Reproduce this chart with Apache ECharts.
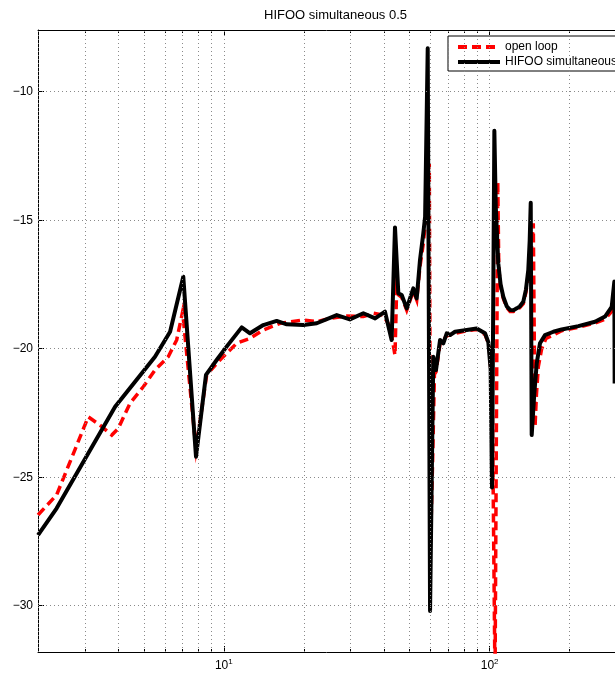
<!DOCTYPE html>
<html><head><meta charset="utf-8">
<script src="https://cdn.jsdelivr.net/npm/echarts@6/dist/echarts.min.js"></script>
<style>html,body{margin:0;padding:0;background:#fff}#c{width:615px;height:675px}</style>
</head><body><div id="c"></div>
<script>
const titleText = 'HIFOO simultaneous 0.5';
const seriesNames = ['open loop', 'HIFOO simultaneous'];

const freqOpen = [2.0, 2.35, 2.72, 3.09, 3.42, 3.79, 4.01, 4.44, 4.98, 5.51, 6.18, 6.65, 7.0, 7.86, 8.62, 9.67, 10.55, 11.18, 12.55, 14.08, 16.28, 19.9, 22.4, 25.1, 29.0, 33.5, 36.6, 39.8, 42.2, 44.06, 44.72, 45.35, 46.7, 48.77, 51.64, 53.19, 54.72, 56.31, 57.5, 59.3, 60.0, 61.0, 62.0, 62.85, 65.1, 68.97, 74.1, 82.0, 89.4, 96.1, 99.5, 101.2, 102.5, 104.8, 107.3, 108.3, 110.0, 112.6, 116.0, 119.4, 123.0, 126.5, 130.0, 133.9, 137.0, 139.8, 141.5, 144.0, 146.0, 148.2, 150.0, 152.5, 157.0, 163.0, 175.0, 186.7, 215.7, 249.2, 271.8, 288.0, 297.0, 298.0];
const magOpen = [-26.47, -25.69, -24.07, -22.65, -22.97, -23.36, -23.10, -22.12, -21.48, -20.83, -20.31, -19.66, -18.56, -23.9, -21.02, -20.44, -20.05, -19.79, -19.6, -19.27, -19.01, -18.88, -18.95, -18.82, -18.73, -18.75, -18.62, -18.69, -19.14, -20.25, -17.6, -17.9, -18.0, -18.5, -17.75, -18.1, -16.8, -15.9, -15.0, -12.8, -27.5, -24.5, -21.0, -20.9, -19.8, -19.5, -19.4, -19.3, -19.25, -19.45, -19.85, -20.9, -22.5, -33.0, -13.5, -16.9, -17.6, -18.05, -18.4, -18.55, -18.55, -18.5, -18.4, -18.25, -17.8, -17.1, -16.6, -16.0, -15.12, -23.05, -21.8, -20.7, -20.0, -19.6, -19.45, -19.3, -19.17, -19.0, -18.85, -18.55, -17.7, -21.5];

const freqHifoo = [2.0, 2.35, 3.90, 5.51, 6.28, 7.04, 7.86, 8.57, 9.40, 10.25, 11.68, 12.55, 14.08, 15.81, 17.25, 19.91, 22.37, 26.6, 29.8, 33.5, 37.1, 40.4, 42.8, 44.06, 45.35, 46.7, 48.77, 51.64, 53.19, 54.72, 56.31, 57.2, 58.5, 59.7, 61.4, 62.85, 65.1, 66.96, 68.97, 70.96, 74.1, 82.0, 89.4, 96.1, 98.9, 100.9, 102.1, 104.2, 105.5, 107.8, 110.0, 112.6, 116.0, 119.4, 123.0, 126.5, 130.0, 133.9, 137.0, 139.8, 141.5, 142.8, 144.0, 145.5, 147.3, 150.4, 154.7, 161.6, 173.7, 186.7, 215.7, 249.2, 271.8, 288.0, 294.6, 295.4];
const magHifoo = [-27.25, -26.21, -22.26, -20.31, -19.34, -17.20, -24.20, -21.02, -20.44, -19.92, -19.17, -19.40, -19.08, -18.92, -19.05, -19.08, -19.01, -18.69, -18.86, -18.62, -18.82, -18.56, -19.66, -15.28, -17.84, -17.91, -18.43, -17.65, -18.04, -16.55, -15.51, -14.86, -8.31, -30.2, -20.31, -20.83, -19.66, -19.79, -19.40, -19.47, -19.34, -19.27, -19.21, -19.40, -19.75, -20.8, -25.4, -11.52, -14.5, -16.68, -17.5, -17.98, -18.35, -18.49, -18.5, -18.43, -18.35, -18.17, -17.7, -16.94, -15.8, -14.32, -23.36, -22.6, -21.74, -20.57, -19.79, -19.47, -19.34, -19.25, -19.12, -18.95, -18.75, -18.37, -17.39, -21.35];

const xMajorTicks = [10, 100];
const xMinorTicks = [2, 3, 4, 5, 6, 7, 8, 9, 20, 30, 40, 50, 60, 70, 80, 90, 200];
const yTicks = [-30, -25, -20, -15, -10];

const FONT = "'Liberation Sans', Arial, Helvetica, sans-serif";
const zip = (a, b) => a.map((v, i) => [v, b[i]]);

const chart = echarts.init(document.getElementById('c'), null, {renderer: 'canvas'});

function xAxisDef(pos, ticks, len, showLine, showLabel) {
  return {
    type: 'log', logBase: 10, min: 2, max: 296.3, position: pos, gridIndex: 0,
    axisLine: {show: showLine, onZero: false, lineStyle: {color: '#000', width: 1}},
    axisTick: {show: true, inside: true, length: len, customValues: ticks, lineStyle: {color: '#000', width: 1}},
    axisLabel: {
      show: showLabel, customValues: ticks, margin: 6,
      formatter: v => '{b|10}{s|' + Math.round(Math.log10(v)) + '}',
      rich: {
        b: {fontSize: 12, fontFamily: FONT, color: '#000'},
        s: {fontSize: 8, fontFamily: FONT, color: '#000', padding: [0, 0, 8, 0]}
      }
    },
    splitLine: {show: false}, minorTick: {show: false}, minorSplitLine: {show: false}
  };
}

const gridMarks = xMinorTicks.concat(xMajorTicks).map(v => ({xAxis: v}))
  .concat(yTicks.map(v => ({yAxis: v})));

const option = {
  animation: false,
  backgroundColor: '#fff',
  title: {
    text: titleText, left: 264, top: 9, padding: 0,
    textStyle: {fontSize: 13, fontWeight: 'normal', color: '#000', fontFamily: FONT}
  },
  legend: {
    data: seriesNames, orient: 'vertical', left: 448, top: 36,
    itemWidth: 42, itemHeight: 4, itemGap: 3, padding: [5, 8, 3, 8],
    backgroundColor: '#fff', borderColor: '#000', borderWidth: 1, borderRadius: 0,
    lineStyle: {width: 4},
    itemStyle: {color: 'rgba(0,0,0,0)', borderWidth: 0, borderColor: 'rgba(0,0,0,0)', opacity: 0},
    textStyle: {fontSize: 12, color: '#000', fontFamily: FONT, lineHeight: 12}
  },
  grid: {left: 38, top: 30, right: 0, bottom: 23, containLabel: false},
  xAxis: [
    xAxisDef('bottom', xMajorTicks, 6, true, true),
    xAxisDef('bottom', xMinorTicks, 3, false, false),
    xAxisDef('top', xMajorTicks, 6, true, false),
    xAxisDef('top', xMinorTicks, 3, false, false)
  ],
  yAxis: {
    type: 'value', min: -31.8, max: -7.6,
    axisLine: {show: true, onZero: false, lineStyle: {color: '#000', width: 1}},
    axisTick: {show: true, inside: true, length: 6, customValues: yTicks, lineStyle: {color: '#000'}},
    axisLabel: {
      customValues: yTicks, margin: 5, fontSize: 12, color: '#000', fontFamily: FONT,
      formatter: v => String(v).replace('-', '\u2212')
    },
    splitLine: {show: false}
  },
  series: [
    {
      name: '__grid', type: 'line', data: [], z: 1, silent: true,
      markLine: {
        silent: true, symbol: ['none', 'none'], label: {show: false},
        lineStyle: {color: '#8a8a8a', type: [1, 3], width: 1},
        emphasis: {disabled: true},
        data: gridMarks
      }
    },
    {
      name: seriesNames[0], type: 'line', data: zip(freqOpen, magOpen),
      symbol: 'none', showSymbol: false, z: 2, clip: true,
      lineStyle: {color: '#ff0000', width: 3.5, type: [9, 5], cap: 'butt', join: 'miter'},
      itemStyle: {color: '#ff0000'}
    },
    {
      name: seriesNames[1], type: 'line', data: zip(freqHifoo, magHifoo),
      symbol: 'none', showSymbol: false, z: 3, clip: true,
      lineStyle: {color: '#000000', width: 4, join: 'round'},
      itemStyle: {color: '#000000'}
    }
  ]
};
chart.setOption(option);
</script></body></html>
